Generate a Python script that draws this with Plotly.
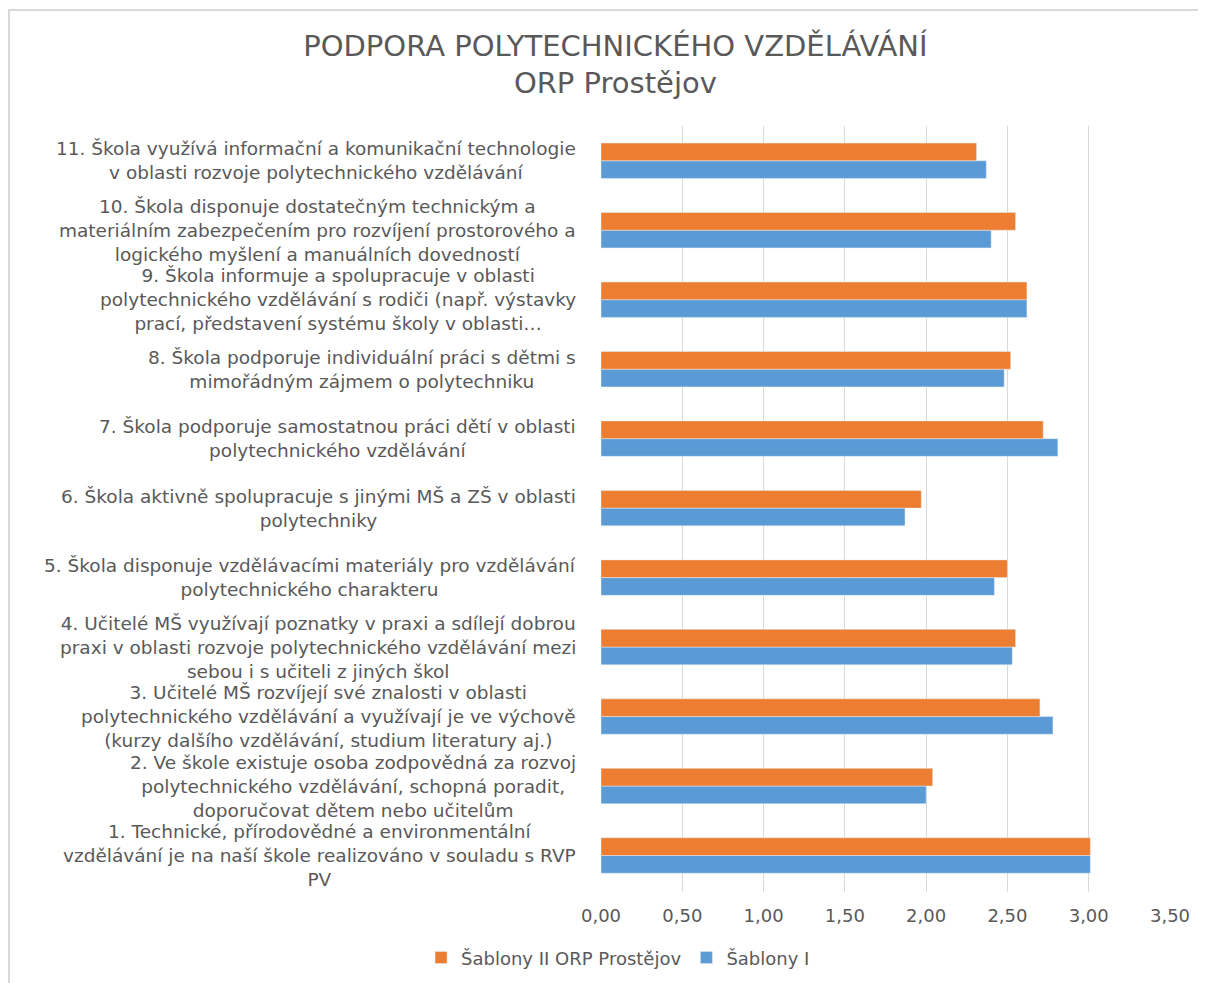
import plotly.graph_objects as go

# ── Data ──────────────────────────────────────────────────
categories = [
    "1. Technické, přírodovědné a environmentální<br>vzdělávání je na naší škole realizováno v souladu s RVP<br>PV",
    "2. Ve škole existuje osoba zodpovědná za rozvoj<br>polytechnického vzdělávání, schopná poradit,<br>doporučovat dětem nebo učitelům",
    "3. Učitelé MŠ rozvíjejí své znalosti v oblasti<br>polytechnického vzdělávání a využívají je ve výchově<br>(kurzy dalšího vzdělávání, studium literatury aj.)",
    "4. Učitelé MŠ využívají poznatky v praxi a sdílejí dobrou<br>praxi v oblasti rozvoje polytechnického vzdělávání mezi<br>sebou i s učiteli z jiných škol",
    "5. Škola disponuje vzdělávacími materiály pro vzdělávání<br>polytechnického charakteru",
    "6. Škola aktivně spolupracuje s jinými MŠ a ZŠ v oblasti<br>polytechniky",
    "7. Škola podporuje samostatnou práci dětí v oblasti<br>polytechnického vzdělávání",
    "8. Škola podporuje individuální práci s dětmi s<br>mimořádným zájmem o polytechniku",
    "9. Škola informuje a spolupracuje v oblasti<br>polytechnického vzdělávání s rodiči (např. výstavky<br>prací, představení systému školy v oblasti…",
    "10. Škola disponuje dostatečným technickým a<br>materiálním zabezpečením pro rozvíjení prostorového a<br>logického myšlení a manuálních dovedností",
    "11. Škola využívá informační a komunikační technologie<br>v oblasti rozvoje polytechnického vzdělávání",
]
sablony_ii = [3.01, 2.04, 2.70, 2.55, 2.50, 1.97, 2.72, 2.52, 2.62, 2.55, 2.31]
sablony_i = [3.01, 2.00, 2.78, 2.53, 2.42, 1.87, 2.81, 2.48, 2.62, 2.40, 2.37]
x_ticks = [0, 0.5, 1.0, 1.5, 2.0, 2.5, 3.0, 3.5]
x_ticktext = ["0,00", "0,50", "1,00", "1,50", "2,00", "2,50", "3,00", "3,50"]

ORANGE = "#ED7D31"
BLUE = "#5B9BD5"
GREY_TXT = "#595959"
FONT = "DejaVu Sans, sans-serif"

fig = go.Figure()

# blue first -> drawn at the bottom of each group
fig.add_trace(go.Bar(
    y=categories, x=sablony_i, orientation="h",
    name="Šablony I", marker_color=BLUE,
))
fig.add_trace(go.Bar(
    y=categories, x=sablony_ii, orientation="h",
    name="Šablony II ORP Prostějov", marker_color=ORANGE,
))

# category labels as annotations so the lines are centred
for cat in categories:
    fig.add_annotation(
        x=-0.04, xref="paper", y=cat, yref="y",
        text=cat, showarrow=False,
        xanchor="right", yanchor="middle", align="center",
        font=dict(family=FONT, size=18.5, color=GREY_TXT),
    )

# light frame around the chart (right/bottom edges fall off the page)
fig.add_shape(
    type="rect", xref="paper", yref="paper",
    x0=-1.0404, x1=1.2, y0=-0.2, y1=1.1514,
    line=dict(color="#D9D9D9", width=2), fillcolor="rgba(0,0,0,0)",
    layer="below",
)

fig.update_layout(
    width=1198, height=975,
    margin=dict(l=593, r=36, t=118, b=91, autoexpand=False),
    paper_bgcolor="white", plot_bgcolor="white",
    barmode="group", bargap=0.49, bargroupgap=0,
    title=dict(
        text="PODPORA POLYTECHNICKÉHO VZDĚLÁVÁNÍ<br>ORP Prostějov",
        x=0.507, xanchor="center", y=0.951, yanchor="middle",
        font=dict(family=FONT, size=29, color=GREY_TXT),
    ),
    legend=dict(
        orientation="h", traceorder="reversed",
        x=0.03, xanchor="center", y=-0.086, yanchor="middle",
        font=dict(family=FONT, size=18, color=GREY_TXT),
    ),
    showlegend=True,
)
fig.update_xaxes(
    range=[0, 3.5], tickvals=x_ticks, ticktext=x_ticktext,
    showgrid=True, gridcolor="#D9D9D9", gridwidth=1,
    zeroline=False, showline=False, ticks="", ticklabelstandoff=11,
    automargin=False,
    tickfont=dict(family=FONT, size=18, color=GREY_TXT),
)
fig.update_yaxes(
    showticklabels=False, showgrid=False, zeroline=False, showline=False,
    ticks="", automargin=False,
)

fig.write_html("out.html")
